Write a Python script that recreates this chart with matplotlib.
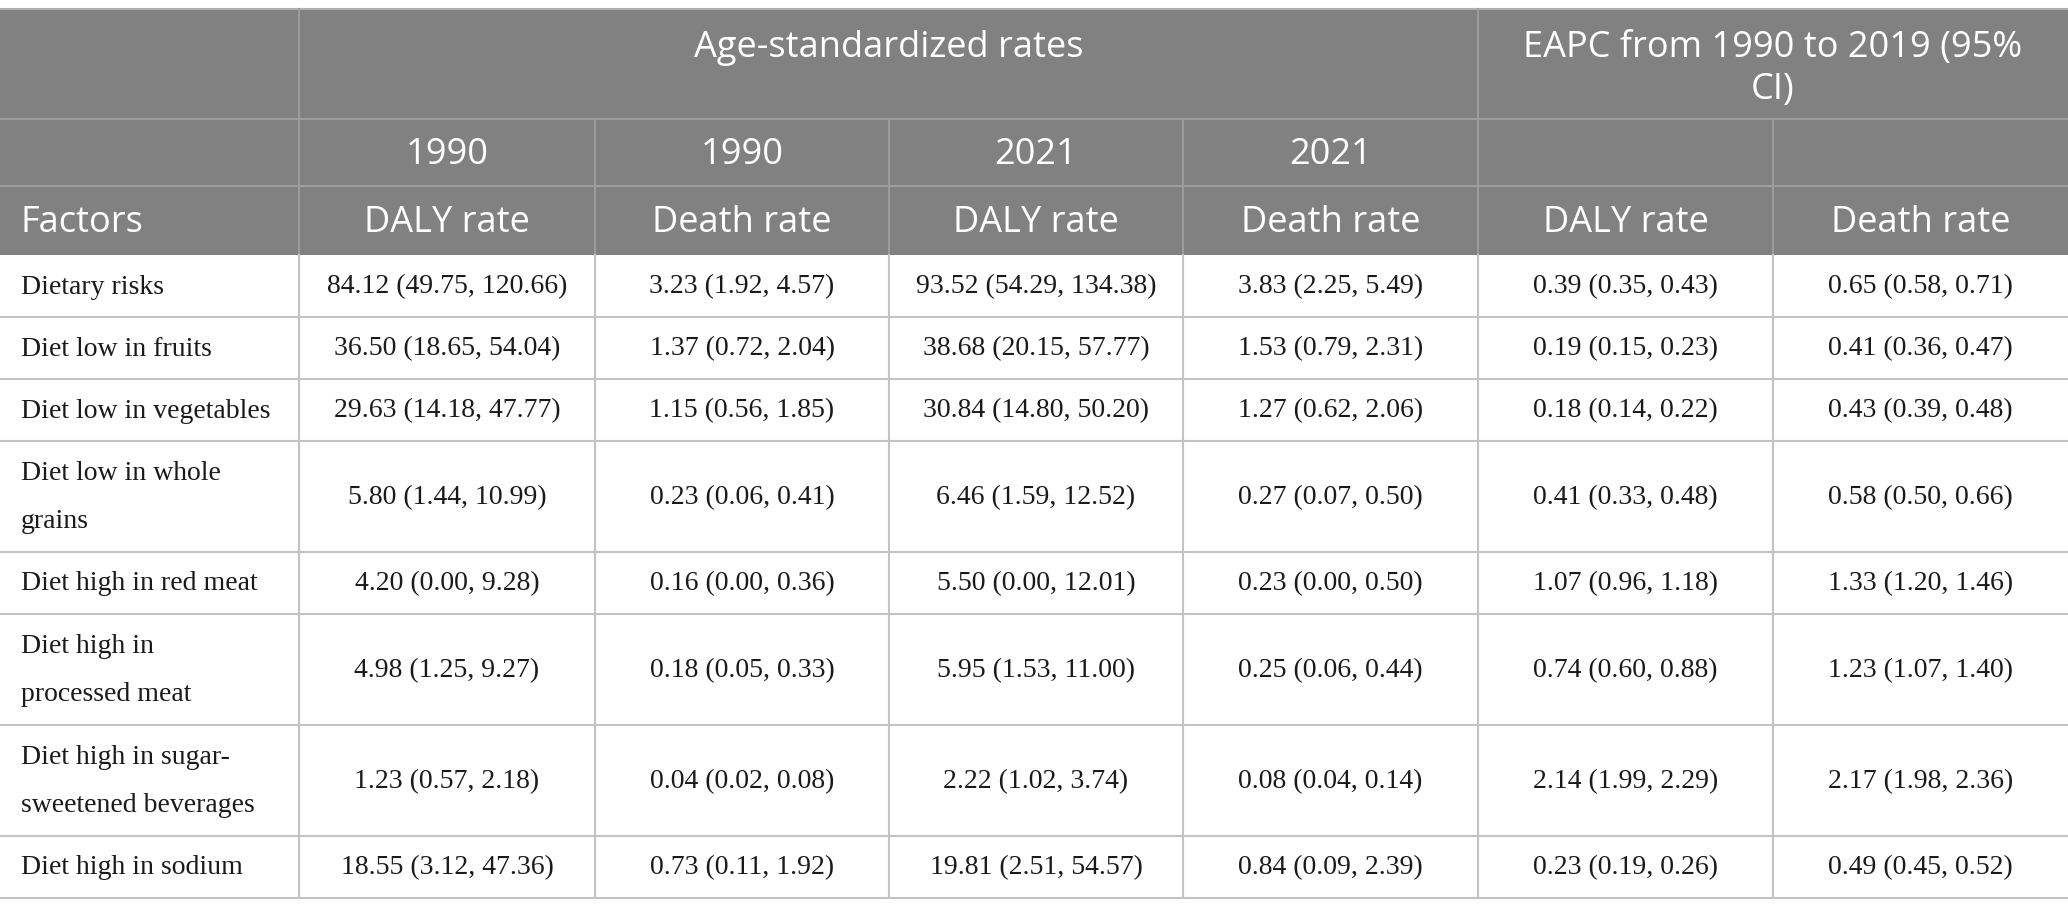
import matplotlib.pyplot as plt
from matplotlib.patches import Rectangle

# table content
top_headers = ["Age-standardized rates", "EAPC from 1990 to 2019 (95%\nCI)"]
years = ["1990", "1990", "2021", "2021", "", ""]
measures = ["DALY rate", "Death rate", "DALY rate", "Death rate", "DALY rate", "Death rate"]

factors = ["Dietary risks", "Diet low in fruits", "Diet low in vegetables",
           "Diet low in whole\ngrains", "Diet high in red meat",
           "Diet high in\nprocessed meat", "Diet high in sugar-\nsweetened beverages",
           "Diet high in sodium"]
daly_1990 = ["84.12 (49.75, 120.66)", "36.50 (18.65, 54.04)", "29.63 (14.18, 47.77)",
             "5.80 (1.44, 10.99)", "4.20 (0.00, 9.28)", "4.98 (1.25, 9.27)",
             "1.23 (0.57, 2.18)", "18.55 (3.12, 47.36)"]
death_1990 = ["3.23 (1.92, 4.57)", "1.37 (0.72, 2.04)", "1.15 (0.56, 1.85)",
              "0.23 (0.06, 0.41)", "0.16 (0.00, 0.36)", "0.18 (0.05, 0.33)",
              "0.04 (0.02, 0.08)", "0.73 (0.11, 1.92)"]
daly_2021 = ["93.52 (54.29, 134.38)", "38.68 (20.15, 57.77)", "30.84 (14.80, 50.20)",
             "6.46 (1.59, 12.52)", "5.50 (0.00, 12.01)", "5.95 (1.53, 11.00)",
             "2.22 (1.02, 3.74)", "19.81 (2.51, 54.57)"]
death_2021 = ["3.83 (2.25, 5.49)", "1.53 (0.79, 2.31)", "1.27 (0.62, 2.06)",
              "0.27 (0.07, 0.50)", "0.23 (0.00, 0.50)", "0.25 (0.06, 0.44)",
              "0.08 (0.04, 0.14)", "0.84 (0.09, 2.39)"]
eapc_daly = ["0.39 (0.35, 0.43)", "0.19 (0.15, 0.23)", "0.18 (0.14, 0.22)",
             "0.41 (0.33, 0.48)", "1.07 (0.96, 1.18)", "0.74 (0.60, 0.88)",
             "2.14 (1.99, 2.29)", "0.23 (0.19, 0.26)"]
eapc_death = ["0.65 (0.58, 0.71)", "0.41 (0.36, 0.47)", "0.43 (0.39, 0.48)",
              "0.58 (0.50, 0.66)", "1.33 (1.20, 1.46)", "1.23 (1.07, 1.40)",
              "2.17 (1.98, 2.36)", "0.49 (0.45, 0.52)"]

columns = [daly_1990, death_1990, daly_2021, death_2021, eapc_daly, eapc_death]

# layout in pixels
W, H = 2068, 915
col_x = [0, 299, 595, 889, 1183, 1478, 1773, 2068]
head_y = [9, 119, 186, 255]
row_h = [62 if "\n" not in f else 111 for f in factors]

hdr_bg = "#808180"
hdr_line = "#9c9c9c"
body_line = "#c3c3c3"
sans = "Open Sans"
serif = "Liberation Serif"

fig = plt.figure(figsize=(W / 100, H / 100), dpi=100)
ax = fig.add_axes([0, 0, 1, 1])
ax.set_xlim(0, W)
ax.set_ylim(H, 0)
ax.axis("off")

# header background
ax.add_patch(Rectangle((0, head_y[0]), W, head_y[3] - head_y[0], color=hdr_bg, lw=0))

# header grid lines
for y in head_y[1:3]:
    ax.plot([0, W], [y, y], color=hdr_line, lw=1.5)
ax.plot([0, W], [head_y[0], head_y[0]], color="#b0b0b0", lw=1.5)
ax.plot([col_x[1], col_x[1]], [head_y[0], head_y[3]], color=hdr_line, lw=1.5)
ax.plot([col_x[5], col_x[5]], [head_y[0], head_y[3]], color=hdr_line, lw=1.5)
for x in col_x[2:5] + [col_x[6]]:
    ax.plot([x, x], [head_y[1], head_y[3]], color=hdr_line, lw=1.5)

hs = 26
# top header row (top aligned)
ax.text((col_x[1] + col_x[5]) / 2, 48, top_headers[0], ha="center", va="center",
        color="white", fontsize=hs, family=sans)
ax.text((col_x[5] + col_x[7]) / 2, 69, top_headers[1], ha="center", va="center",
        color="white", fontsize=hs, family=sans, linespacing=1.2)

for i in range(6):
    cx = (col_x[i + 1] + col_x[i + 2]) / 2
    ax.text(cx, (head_y[1] + head_y[2]) / 2 + 2, years[i], ha="center", va="center",
            color="white", fontsize=hs, family=sans)
    ax.text(cx, (head_y[2] + head_y[3]) / 2 + 2, measures[i], ha="center", va="center",
            color="white", fontsize=hs, family=sans)
ax.text(21, (head_y[2] + head_y[3]) / 2 + 2, "Factors", ha="left", va="center",
        color="white", fontsize=hs, family=sans)

# body rows
bs = 20
y = head_y[3]
for r, f in enumerate(factors):
    yc = y + row_h[r] / 2
    ax.text(21, yc + 1, f, ha="left", va="center", fontsize=bs, family=serif,
            color="#1a1a1a", linespacing=2.25)
    for i, col in enumerate(columns):
        cx = (col_x[i + 1] + col_x[i + 2]) / 2
        ax.text(cx, yc + 1, col[r], ha="center", va="center", fontsize=bs,
                family=serif, color="#1a1a1a")
    y += row_h[r]
    ax.plot([0, W], [y, y], color=body_line, lw=1.5)

for x in col_x[1:-1]:
    ax.plot([x, x], [head_y[3], y], color=body_line, lw=1.5)

plt.savefig("out.png", dpi=100)
